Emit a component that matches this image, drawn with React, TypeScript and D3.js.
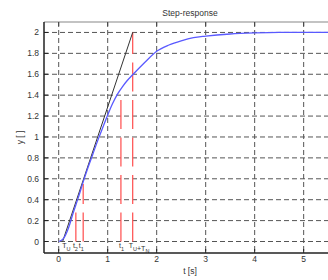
import React, { useEffect, useRef } from 'react';
import * as d3 from 'd3';

// step response samples (t in s, y)
const respT = [0, 0.1, 0.2, 0.3, 0.4, 0.5, 0.6, 0.7, 0.8, 0.9, 1.0, 1.1, 1.2, 1.3, 1.4, 1.5, 1.75, 2.0, 2.25, 2.5, 2.75, 3.0, 3.5, 4.0, 4.5, 5.0, 6.0];
const respY = [0, 0.03, 0.13, 0.28, 0.42, 0.57, 0.71, 0.84, 0.97, 1.09, 1.21, 1.32, 1.41, 1.48, 1.54, 1.59, 1.71, 1.82, 1.88, 1.92, 1.95, 1.965, 1.985, 1.995, 2.0, 2.0, 2.0];

// inflection tangent
const tangentT = [0.08, 1.51];
const tangentY = [0, 2];

// red marker lines
const markerT = [0.35, 0.5, 1.27, 1.51];
const markerTop = [0.3, 0.55, 1.4, 2.0];

// annotation labels along t axis: [main, sub] parts
const labelT = [0.07, 0.29, 0.41, 1.23, 1.43];
const labelParts: string[][][] = [
  [['T', 'U']],
  [['t', '2']],
  [['t', '1']],
  [['t', '1']],
  [['T', 'U'], ['+T', 'N']],
];

const xTicks = [0, 1, 2, 3, 4, 5, 6];
const yTicks = [0, 0.2, 0.4, 0.6, 0.8, 1, 1.2, 1.4, 1.6, 1.8, 2];

const W = 328;
const H = 280;

const App = () => {
  const svgRef = useRef<SVGSVGElement>(null);

  useEffect(() => {
    document.body.style.margin = '0';
    const svg = d3.select(svgRef.current);
    svg.selectAll('*').remove();

    const left = 44, right = 336, top = 22, bottom = 253;
    const x = d3.scaleLinear().domain([-0.3, 5.66]).range([left, right]);
    const y = d3.scaleLinear().domain([-0.11, 2.1]).range([bottom, top]);
    const font = 'Liberation Sans, Arial, sans-serif';
    const visX = xTicks.filter(d => x(d) < W - 6);

    svg.append('defs').append('clipPath').attr('id', 'plot')
      .append('rect').attr('x', left).attr('y', top).attr('width', right - left).attr('height', bottom - top);

    const g = svg.append('g').attr('clip-path', 'url(#plot)');

    // grid
    g.selectAll('.vg').data(xTicks).join('line')
      .attr('x1', d => x(d)).attr('x2', d => x(d))
      .attr('y1', top).attr('y2', bottom)
      .attr('stroke', '#555').attr('stroke-dasharray', '5,3');
    g.selectAll('.hg').data(yTicks).join('line')
      .attr('x1', left).attr('x2', right)
      .attr('y1', d => y(d)).attr('y2', d => y(d))
      .attr('stroke', '#555').attr('stroke-dasharray', '5,3');

    // red marker lines, drawn from bottom up
    g.selectAll('.mk').data(markerT).join('line')
      .attr('x1', d => x(d)).attr('x2', d => x(d))
      .attr('y1', y(0)).attr('y2', (d, i) => y(markerTop[i]))
      .attr('stroke', '#ff5a5a').attr('stroke-width', 1.3)
      .attr('stroke-dasharray', '29,8.5');

    // tangent
    g.append('line')
      .attr('x1', x(tangentT[0])).attr('y1', y(tangentY[0]))
      .attr('x2', x(tangentT[1])).attr('y2', y(tangentY[1]))
      .attr('stroke', '#333').attr('stroke-width', 1);

    // response
    const line = d3.line<number>()
      .x((d, i) => x(respT[i]))
      .y(d => y(d))
      .curve(d3.curveMonotoneX);
    g.append('path').datum(respY)
      .attr('d', line)
      .attr('fill', 'none').attr('stroke', '#5a5aff').attr('stroke-width', 1.3);

    // annotations
    labelT.forEach((t, i) => {
      const txt = svg.append('text')
        .attr('x', x(t)).attr('y', 248)
        .attr('font-family', font).attr('font-size', 7).attr('fill', '#333');
      labelParts[i].forEach(([main, sub]) => {
        txt.append('tspan').attr('dy', 0).text(main);
        txt.append('tspan').attr('dy', 2.5).attr('font-size', 5.5).text(sub);
        txt.append('tspan').attr('dy', -2.5).text('');
      });
    });

    // axes frame
    svg.append('line').attr('x1', left).attr('x2', W).attr('y1', top).attr('y2', top)
      .attr('stroke', '#888').attr('stroke-width', 1.2);
    svg.append('line').attr('x1', left).attr('x2', W).attr('y1', bottom).attr('y2', bottom)
      .attr('stroke', '#222').attr('stroke-width', 1.5);
    svg.append('line').attr('x1', left).attr('x2', left).attr('y1', top).attr('y2', bottom)
      .attr('stroke', '#222').attr('stroke-width', 1.5);

    // ticks
    svg.selectAll('.yt').data(yTicks).join('line')
      .attr('x1', left).attr('x2', left + 4)
      .attr('y1', d => y(d)).attr('y2', d => y(d)).attr('stroke', '#222');
    svg.selectAll('.xtb').data(visX).join('line')
      .attr('x1', d => x(d)).attr('x2', d => x(d))
      .attr('y1', bottom).attr('y2', bottom - 4).attr('stroke', '#222');
    svg.selectAll('.xtt').data(visX).join('line')
      .attr('x1', d => x(d)).attr('x2', d => x(d))
      .attr('y1', top).attr('y2', top + 4).attr('stroke', '#444');

    // tick labels
    svg.selectAll('.yl').data(yTicks).join('text')
      .attr('x', left - 5).attr('y', d => y(d) + 3)
      .attr('text-anchor', 'end')
      .attr('font-family', font).attr('font-size', 8.5).attr('fill', '#333')
      .text(d => d3.format('~g')(d));
    svg.selectAll('.xl').data(visX).join('text')
      .attr('x', d => x(d)).attr('y', 262)
      .attr('text-anchor', 'middle')
      .attr('font-family', font).attr('font-size', 8.5).attr('fill', '#333')
      .text(d => d);

    // titles
    svg.append('text').attr('x', 190).attr('y', 15.5).attr('text-anchor', 'middle')
      .attr('font-family', font).attr('font-size', 8.5).attr('fill', '#333').text('Step-response');
    svg.append('text').attr('x', 190).attr('y', 274).attr('text-anchor', 'middle')
      .attr('font-family', font).attr('font-size', 8.5).attr('fill', '#333').text('t [s]');
    svg.append('text').attr('transform', `translate(23,${(top + bottom) / 2}) rotate(-90)`)
      .attr('text-anchor', 'middle')
      .attr('font-family', font).attr('font-size', 8.5).attr('fill', '#333').text('y [ ]');
  }, []);

  return <svg ref={svgRef} width={W} height={H} style={{ display: 'block' }} />;
};

export default App;
